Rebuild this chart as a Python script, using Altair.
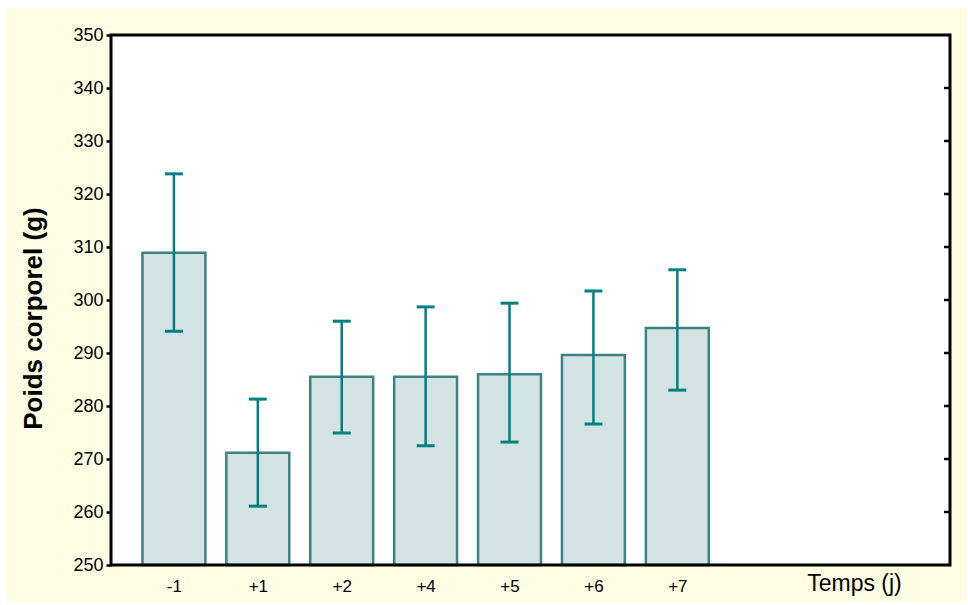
import json
import altair as alt
import pandas as pd

# Body weight by day (mean with confidence interval)
days = ["-1", "+1", "+2", "+4", "+5", "+6", "+7"]
slots = [1, 2, 3, 4, 5, 6, 7]
mean_weight = [308.9, 271.2, 285.5, 285.5, 286.0, 289.6, 294.7]
low_weight = [294.1, 261.1, 274.9, 272.5, 273.2, 276.6, 283.0]
high_weight = [323.8, 281.3, 296.0, 298.7, 299.4, 301.7, 305.7]
y_ticks = [250, 260, 270, 280, 290, 300, 310, 320, 330, 340, 350]

W, H = 839, 530
FONT = "Liberation Sans"
TEAL = "#008080"

df = pd.DataFrame({
    "day": days,
    "slot": slots,
    "mean": mean_weight,
    "low": low_weight,
    "high": high_weight,
})

x_scale = alt.Scale(domain=[0.25, 10.25], nice=False, zero=False)
y_scale = alt.Scale(domain=[250, 350], nice=False, zero=False)

label_expr = json.dumps(days) + "[datum.value - 1]"

x_axis = alt.Axis(
    values=slots, labelExpr=label_expr, ticks=False, domain=False, grid=False,
    labelFont=FONT, labelFontSize=17, labelColor="black", labelPadding=13,
    title="Temps (j)", titleFont=FONT, titleFontSize=23, titleFontWeight="normal",
    titleColor="black", titleX=743, titleY=18, titleAlign="center",
    titleBaseline="middle", zindex=1,
)
y_axis = alt.Axis(
    values=y_ticks, grid=False, domain=False, tickSize=5, tickWidth=2.5,
    tickColor="black", labelFont=FONT, labelFontSize=18, labelColor="black",
    labelPadding=3, title="Poids corporel (g)", titleFont=FONT, titleFontSize=26,
    titleFontWeight="bold", titleColor="black", titleX=-78, titleY=283,
    titleAngle=270, titleAlign="center", titleBaseline="middle", zindex=1,
)

one = alt.Data(values=[{"k": 0}])

# pale yellow panel behind everything
panel = alt.Chart(one).mark_rect(color="#FFFDE3").encode(
    x=alt.value(-105), x2=alt.value(855), y=alt.value(-27), y2=alt.value(567)
)
# white plotting area
plot_bg = alt.Chart(one).mark_rect(color="white").encode(
    x=alt.value(0), x2=alt.value(W), y=alt.value(0), y2=alt.value(H)
)

base = alt.Chart(df).transform_calculate(
    left="datum.slot - 0.375",
    right="datum.slot + 0.375",
    cap_l="datum.slot - 0.107",
    cap_r="datum.slot + 0.107",
    floor="250",
)

bars = base.mark_bar(fill="#D3E2E2", stroke="#3F8282", strokeWidth=2.5).encode(
    x=alt.X("left:Q", scale=x_scale, axis=x_axis),
    x2="right:Q",
    y=alt.Y("mean:Q", scale=y_scale, axis=y_axis),
    y2="floor:Q",
)

whisker = base.mark_rule(color=TEAL, strokeWidth=2.5).encode(
    x="slot:Q", y="low:Q", y2="high:Q"
)
cap_hi = base.mark_rule(color=TEAL, strokeWidth=3).encode(
    x="cap_l:Q", x2="cap_r:Q", y="high:Q"
)
cap_lo = base.mark_rule(color=TEAL, strokeWidth=3).encode(
    x="cap_l:Q", x2="cap_r:Q", y="low:Q"
)

# inward ticks on the right edge of the frame
right_ticks = alt.Chart(pd.DataFrame({"v": y_ticks[1:-1]})).mark_rule(
    color="black", strokeWidth=2.5
).encode(x=alt.value(W - 6), x2=alt.value(W), y="v:Q")

frame = alt.Chart(one).mark_rect(fill=None, stroke="black", strokeWidth=3).encode(
    x=alt.value(0), x2=alt.value(W), y=alt.value(0), y2=alt.value(H)
)

chart = alt.layer(
    panel, plot_bg, bars, whisker, cap_hi, cap_lo, right_ticks, frame
).properties(
    width=W, height=H,
    autosize=alt.AutoSizeParams(type="none"),
    padding={"left": 111, "top": 35, "right": 18, "bottom": 40},
    background="white",
).configure_view(stroke=None)

chart.save("out.html", embed_options={"renderer": "svg", "actions": False})
